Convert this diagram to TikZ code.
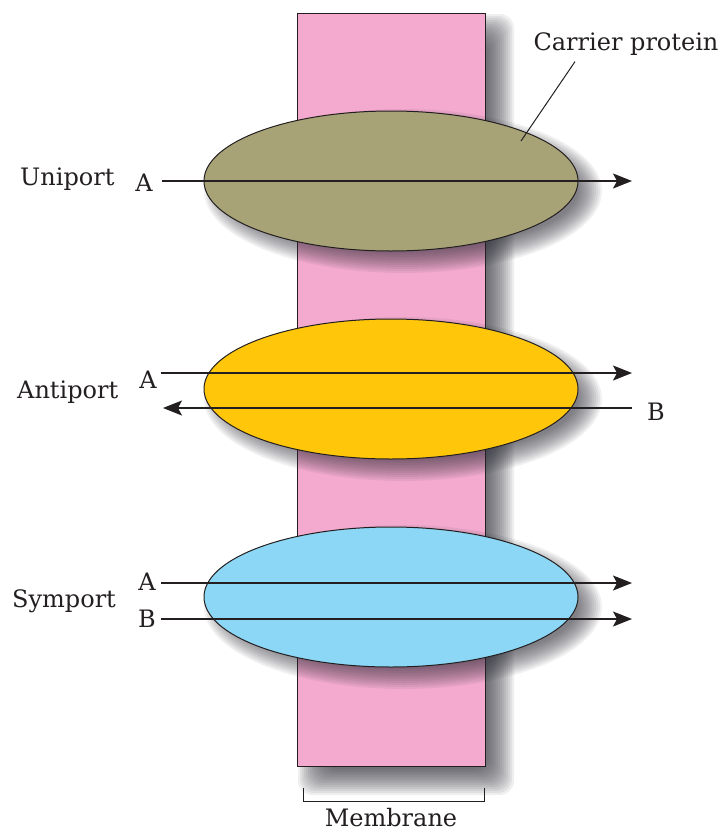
\documentclass[tikz,border=0pt]{standalone}
\usepackage{fontspec}
\setmainfont{DejaVu Serif}
\usetikzlibrary{shapes.geometric,arrows.meta}
\definecolor{mempink}{RGB}{243,170,206}
\definecolor{olivec}{RGB}{168,163,118}
\definecolor{yellowc}{RGB}{255,198,10}
\definecolor{bluec}{RGB}{139,215,245}
\definecolor{ink}{RGB}{35,31,32}
\definecolor{shadowc}{RGB}{40,40,50}
\begin{document}
\begin{tikzpicture}[x=1pt,y=-1pt,
  lbl/.style={font=\fontsize{24}{28}\selectfont, text=ink, inner sep=0pt},
  membrane/.style={draw=ink, line width=1pt, fill=mempink, minimum width=188pt, minimum height=753pt, inner sep=0pt},
  carrier/.style={ellipse, draw=ink, line width=1pt, minimum width=374pt, minimum height=140pt, inner sep=0pt},
  shadowpiece/.style={fill=shadowc, fill opacity=0.065},
  arr/.style={draw=ink, line width=1.2pt, -{Stealth[length=19pt,width=15pt,inset=4pt]}},
  thin/.style={draw=ink, line width=1pt}]
\useasboundingbox (0,0) rectangle (726,833);
% membrane shadow
\foreach \e in {-14,-12,...,14}{
  \fill[shadowc, fill opacity=0.075, rounded corners=14pt] (297+15-\e,13+15-\e) rectangle (485+15+\e,766+15+\e);
}
% membrane
\node (mem) [membrane] at (391,389.5) {};
% carrier protein shadows
\foreach \cy in {181,389,597}{
  \foreach \e in {-12,-10,...,12}{
    \fill[shadowpiece] (391+12,\cy+10) ellipse [x radius=187+\e, y radius=70+\e];
  }
}
% carrier proteins
\node (uni) [carrier, fill=olivec] at (391,181) {};
\node (anti) [carrier, fill=yellowc] at (391,389) {};
\node (sym) [carrier, fill=bluec] at (391,597) {};
% labels
\node (uniL) [lbl, anchor=base west] at (20,185) {Uniport};
\node (uniA) [lbl] at (144,183) {A};
\node (antiL) [lbl, anchor=base west] at (17,398) {Antiport};
\node (antiA) [lbl] at (148,380) {A};
\node (antiB) [lbl] at (656,412) {B};
\node (symL) [lbl, anchor=base west] at (12,607) {Symport};
\node (symA) [lbl] at (147,582) {A};
\node (symB) [lbl] at (147,619) {B};
\node (cpL) [lbl] at (626,44) {Carrier protein};
\node (memL) [lbl, anchor=base] at (391,826) {Membrane};
% arrow ends
\coordinate (uniE) at (632,181);
\coordinate (antiAE) at (632,373);
\coordinate (antiBS) at (632,408);
\coordinate (antiBE) at (163,408);
\coordinate (symAE) at (632,583);
\coordinate (symBE) at (632,619);
\draw[arr] ([xshift=9pt]uniA.east |- uniE) -- (uniE);
\draw[arr] ([xshift=4pt]antiA.east |- antiAE) -- (antiAE);
\draw[arr] (antiBS) -- (antiBE);
\draw[arr] ([xshift=5pt]symA.east |- symAE) -- (symAE);
\draw[arr] ([xshift=5pt]symB.east |- symBE) -- (symBE);
% carrier protein pointer
\coordinate (cpP) at (521,141);
\draw[thin] ([xshift=-51pt,yshift=-6pt]cpL.south) -- (cpP);
% membrane bracket
\coordinate (brL) at (303,788);
\coordinate (brR) at (484,788);
\draw[thin] (brL) -- ++(0,13) -| (brR);
\end{tikzpicture}
\end{document}
